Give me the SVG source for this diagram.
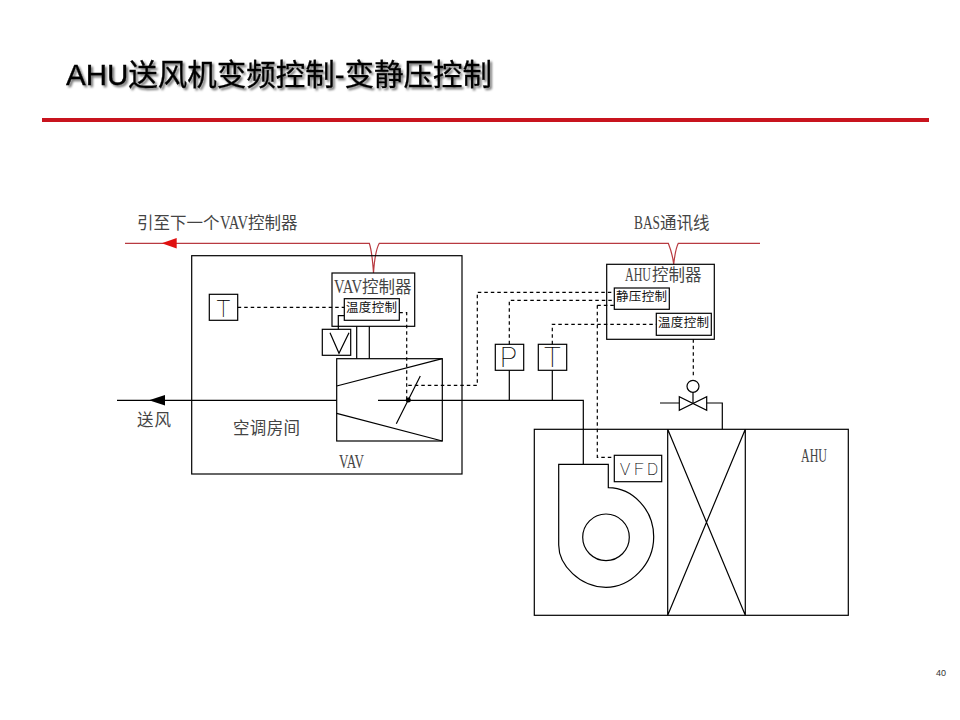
<svg xmlns="http://www.w3.org/2000/svg" width="960" height="720" viewBox="0 0 960 720">
<defs>
<filter id="shadow" x="-5%" y="-30%" width="110%" height="170%"><feDropShadow dx="2" dy="2" stdDeviation="1" flood-color="#000" flood-opacity="0.55"/></filter>
</defs>
<style>
.box{fill:none;stroke:#000;stroke-width:1.2}
.line{fill:none;stroke:#000;stroke-width:1.2}
.dash{fill:none;stroke:#000;stroke-width:1.2;stroke-dasharray:3.5 3}
.bus{fill:none;stroke:#b83a40;stroke-width:1.2}
.lbl{font-family:"Liberation Serif","Noto Sans CJK SC",serif;fill:#444;font-size:16.500px}
.lat{font-size:19px}
.in{font-family:"Noto Sans CJK SC",sans-serif;fill:#111;font-size:12.500px}
.sym{font-family:"Roboto","Liberation Sans",sans-serif;font-weight:100;fill:#000;stroke:#000;stroke-width:0.15}
</style>
<rect width="960" height="720" fill="#fff"/>
<g id="title">
<text x="66" y="85" font-family="'Liberation Sans','Noto Sans CJK SC',sans-serif" font-size="29.500" fill="#000" stroke="#000" stroke-width="0.3" filter="url(#shadow)">AHU送风机变频控制-变静压控制</text>
<rect x="42" y="118" width="887" height="4" fill="#c8141e"/>
</g>
<g id="connectors">
<path class="bus" d="M125 243.300H369.300C371.500 250 372.500 258 373.500 273C374.500 258 375.500 250 379.300 243.300H668.300C670.500 249 672.700 255 673.700 264.300C674.700 255 675.500 249 678.300 243.300H760"/>
<path d="M161.700 243.300L176.700 238V248.600Z" fill="#e01010"/>
<path class="line" d="M117 400.300H336.700M378 400.300H583.300V464.300M509.300 370.300V400.300M552.300 370.300V400.300M356.700 326.300V358.700M369.300 326.300V358.700M338.300 329.300V315.700H344.300"/>
<path d="M149 400.300L165 395V405.600Z" fill="#000"/>
<path class="dash" d="M237.700 307.300H344.300M399.300 312.700H406.700V400M408.300 385.300H477.300V292.300H614.300M509.300 344.300V300.300H614.300M597.300 305.300H614.300M597.300 305.300V457.300H614.300M552.300 344.300V324.300H656.300M693.300 339.300V378"/>
<path class="line" d="M660 403H679.300M706.700 403H722.300V429.300M693 392.500V403.500"/>
</g>
<g id="room">
<rect class="box" x="191.700" y="255.700" width="270.300" height="218.300"/>
<text class="lbl" x="233" y="434" textLength="67">空调房间</text>
</g>
<g id="vav-controller">
<rect class="box" x="332" y="273" width="82.700" height="53.300"/>
<text class="lbl" y="293"><tspan class="lat" x="334" textLength="28" lengthAdjust="spacingAndGlyphs">VAV</tspan><tspan x="362">控制器</tspan></text>
<rect class="box" x="344.300" y="298.700" width="55" height="21.600"/>
<text class="in" x="346" y="312" textLength="51">温度控制</text>
</g>
<g id="room-sensor">
<rect class="box" x="209.300" y="294.300" width="28.400" height="26"/>
<text class="sym" x="216.500" y="317" font-size="23">T</text>
</g>
<g id="actuator">
<rect class="box" x="322.300" y="329.300" width="28.400" height="26"/>
<path class="line" d="M330 332.700L339 353.300L349 332.700" stroke-width="1"/>
</g>
<g id="vav-box">
<rect class="box" x="336.700" y="358.700" width="105.600" height="82.300"/>
<path class="line" d="M336.700 386L442.300 358.700M336.700 413.300L442.300 441M420.300 376L396.300 423.700"/>
<circle cx="408.300" cy="400" r="2.500" fill="#000"/>
<text class="lbl lat" x="339" y="468" textLength="25" lengthAdjust="spacingAndGlyphs">VAV</text>
</g>
<g id="bus-labels">
<text class="lbl" y="229"><tspan x="137">引至下一个</tspan><tspan class="lat" x="220" textLength="28" lengthAdjust="spacingAndGlyphs">VAV</tspan><tspan x="248">控制器</tspan></text>
<text class="lbl" y="229"><tspan class="lat" x="634" textLength="26" lengthAdjust="spacingAndGlyphs">BAS</tspan><tspan x="660">通讯线</tspan></text>
<text class="lbl" x="137" y="426" textLength="34">送风</text>
</g>
<g id="ahu-controller">
<rect class="box" x="606.700" y="264.300" width="107.600" height="75"/>
<text class="lbl" y="281"><tspan class="lat" x="625" textLength="26" lengthAdjust="spacingAndGlyphs">AHU</tspan><tspan x="652">控制器</tspan></text>
<rect class="box" x="614.300" y="288" width="55" height="21.300"/>
<text class="in" x="616" y="301" textLength="51">静压控制</text>
<rect class="box" x="656.300" y="313.300" width="55" height="22"/>
<text class="in" x="658" y="327" textLength="51">温度控制</text>
</g>
<g id="p-sensor">
<rect class="box" x="495.300" y="344.300" width="28.400" height="26"/>
<text class="sym" x="500" y="367" font-size="28">P</text>
</g>
<g id="t-sensor">
<rect class="box" x="538.300" y="344.300" width="28.400" height="26"/>
<text class="sym" x="544" y="367" font-size="28">T</text>
</g>
<g id="valve">
<circle class="box" cx="693" cy="386.300" r="6"/>
<path class="line" d="M679.300 396.700V410.300L706.700 396.700V410.300Z"/>
</g>
<g id="ahu">
<rect class="box" x="534.300" y="429.300" width="314" height="186"/>
<path class="line" d="M667.700 429.300V615.300M745.300 429.300V615.300M667.700 429.300L745.300 615.300M745.300 429.300L667.700 615.300"/>
<text class="lbl lat" x="801" y="462" textLength="26" lengthAdjust="spacingAndGlyphs">AHU</text>
</g>
<g id="vfd">
<rect class="box" x="614.300" y="455.300" width="47.400" height="26.400"/>
<text class="sym" y="475" font-size="17"><tspan x="620">V</tspan><tspan x="634">F</tspan><tspan x="647">D</tspan></text>
</g>
<g id="fan">
<path class="line" d="M558.700 464.300H608.300V487.700C633 488 653.700 510 653.700 536.700C653.700 565 630 587.300 606 587.300C580 587.300 558.700 565 558.700 545Z"/>
<circle class="box" cx="606" cy="537.300" r="23.300"/>
</g>
<g id="page-number">
<text x="936" y="676" font-family="'Liberation Sans',sans-serif" font-size="9" fill="#333">40</text>
</g>
</svg>
